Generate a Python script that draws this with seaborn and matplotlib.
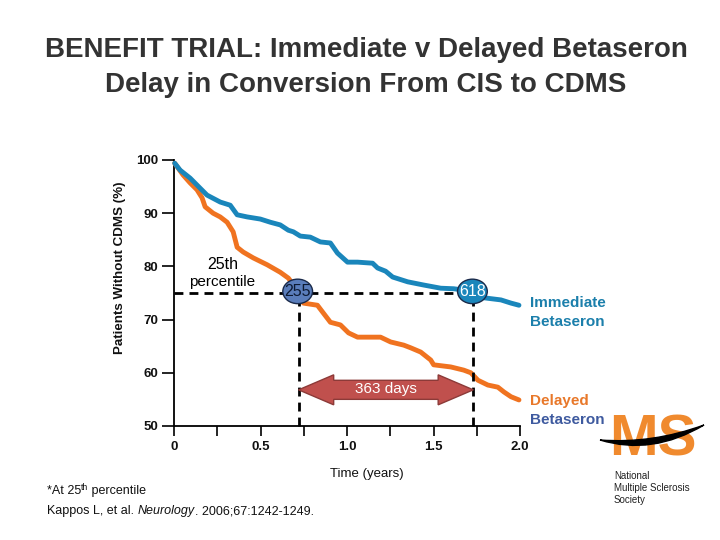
import matplotlib
matplotlib.use("Agg")
import matplotlib.pyplot as plt
import seaborn as sns
import pandas as pd
from matplotlib.patches import Ellipse, Polygon, PathPatch
from matplotlib.path import Path

# ---------------- data ----------------
imm_t = [0.004, 0.035, 0.093, 0.151, 0.191, 0.267, 0.325, 0.365, 0.423, 0.499,
         0.557, 0.614, 0.661, 0.690, 0.730, 0.788, 0.846, 0.904, 0.945, 1.003,
         1.061, 1.148, 1.177, 1.223, 1.264, 1.351, 1.443, 1.542, 1.617, 1.710,
         1.791, 1.890, 1.948, 1.994]
imm_s = [99.4, 98.1, 96.6, 94.7, 93.4, 92.1, 91.5, 89.7, 89.3, 88.9,
         88.3, 87.8, 86.8, 86.5, 85.7, 85.5, 84.6, 84.4, 82.5, 80.8,
         80.8, 80.6, 79.7, 79.1, 78.0, 77.1, 76.5, 75.9, 75.8, 75.4,
         74.1, 73.7, 73.1, 72.7]
del_t = [0.004, 0.052, 0.093, 0.133, 0.162, 0.180, 0.226, 0.267, 0.307, 0.342,
         0.365, 0.400, 0.458, 0.539, 0.614, 0.661, 0.713, 0.748, 0.829, 0.864,
         0.904, 0.962, 1.009, 1.061, 1.194, 1.252, 1.328, 1.368, 1.426, 1.484,
         1.501, 1.600, 1.675, 1.716, 1.757, 1.814, 1.872, 1.907, 1.948, 1.994]
del_s = [99.4, 97.2, 95.7, 94.4, 92.9, 91.2, 90.0, 89.3, 88.3, 86.5,
         83.6, 82.7, 81.6, 80.3, 78.9, 77.8, 75.6, 73.1, 72.7, 71.2,
         69.5, 69.0, 67.5, 66.7, 66.7, 65.8, 65.2, 64.7, 63.9, 62.4,
         61.5, 61.1, 60.5, 60.0, 58.6, 57.7, 57.3, 56.4, 55.5, 54.9]
groups = ["Delayed", "Immediate"]
pct_level = 75.0
pct_x = [0.72, 1.73]
pct_labels = ["255", "618"]
diff_label = "363 days"
x_ticks = [0.0, 0.5, 1.0, 1.5, 2.0]
x_ticklabels = ["0", "0.5", "1.0", "1.5", "2.0"]
x_minor = [0.25, 0.75, 1.25, 1.75]
y_ticks = [50, 60, 70, 80, 90, 100]

df = pd.concat([
    pd.DataFrame({"t": del_t, "s": del_s, "g": "Delayed"}),
    pd.DataFrame({"t": imm_t, "s": imm_s, "g": "Immediate"}),
])

# ---------------- style ----------------
sns.set_theme(style="white")
plt.rcParams["font.family"] = ["Liberation Sans", "DejaVu Sans"]

BLUE = "#1a86bb"
ORANGE = "#f07320"
TEAL_TXT = "#1b7fab"
NAVY_TXT = "#3e5a9f"

fig = plt.figure(figsize=(7.2, 5.4), dpi=100)
W, H = 720, 540
ax = fig.add_axes([174 / W, 1 - 426 / H, (520 - 174) / W, (426 - 160) / H])

sns.lineplot(data=df, x="t", y="s", hue="g", hue_order=groups,
             palette={"Delayed": ORANGE, "Immediate": BLUE},
             linewidth=3.5, sort=False, legend=False, ax=ax, zorder=3)
for ln in ax.lines:
    ln.set_clip_on(False)

ax.set_xlim(0, 2.0)
ax.set_ylim(50, 100)
ax.set_xticks(x_ticks)
ax.set_xticklabels(x_ticklabels)
ax.set_xticks(x_minor, minor=True)
ax.set_yticks(y_ticks)
ax.set_xlabel("")
ax.set_ylabel("")
for sp in ["top", "right"]:
    ax.spines[sp].set_visible(False)
for sp in ["left", "bottom"]:
    ax.spines[sp].set_color("black")
    ax.spines[sp].set_linewidth(1.3)
ax.tick_params(axis="x", which="both", direction="out", length=7, width=1.2,
               color="black", bottom=True, pad=4, labelsize=9.5)
ax.tick_params(axis="y", which="both", direction="out", length=9, width=1.2,
               color="black", left=True, pad=2, labelsize=9.5)
for lab in ax.get_xticklabels() + ax.get_yticklabels():
    lab.set_fontweight("bold")
    lab.set_color("#111111")

# dashed percentile lines
ax.plot([0, pct_x[1]], [pct_level, pct_level], ls=(0, (3.2, 2.2)), color="black",
        lw=2.0, zorder=4, clip_on=False)
for xv in pct_x:
    ax.plot([xv, xv], [50, pct_level], ls=(0, (3.2, 2.2)), color="black",
            lw=2.0, zorder=4, clip_on=False)

# ellipses with days
ell_fc = ["#5a7dbb", "#1a86bb"]
ell_tc = ["#0d1a33", "white"]
for xv, lab, fc, tc in zip(pct_x, pct_labels, ell_fc, ell_tc):
    ax.add_patch(Ellipse((xv - 0.005, pct_level + 0.3), 0.172, 4.6, facecolor=fc,
                         edgecolor="#1a2a4a", lw=1.0, zorder=6, clip_on=False))
    ax.text(xv - 0.005, pct_level + 0.3, lab, ha="center", va="center",
            fontsize=11.5, color=tc, zorder=7)

# double arrow
x0, x1 = pct_x
ya = 56.8
dx, bh, hh = 0.203, 1.79, 2.82
pts = [(x0, ya), (x0 + dx, ya + hh), (x0 + dx, ya + bh), (x1 - dx, ya + bh),
       (x1 - dx, ya + hh), (x1, ya), (x1 - dx, ya - hh), (x1 - dx, ya - bh),
       (x0 + dx, ya - bh), (x0 + dx, ya - hh)]
ax.add_patch(Polygon(pts, closed=True, facecolor="#c0504d", edgecolor="#8c3a38",
                     lw=1.0, zorder=5))
ax.text((x0 + x1) / 2, ya + 0.2, diff_label, ha="center", va="center",
        color="white", fontsize=11, zorder=6)

# 25th percentile annotation
ax.text(0.28, 80.4, "25th", ha="center", va="center", fontsize=11.5, color="black")
ax.text(0.28, 77.1, "percentile", ha="center", va="center", fontsize=11, color="black")

# group labels
for txt, yp, col in [("Immediate", 303, TEAL_TXT), ("Betaseron", 322, TEAL_TXT),
                     ("Delayed", 401, "#e8782a"), ("Betaseron", 420, NAVY_TXT)]:
    fig.text(530 / W, 1 - yp / H, txt, color=col, fontsize=11,
             fontweight="bold", va="center", ha="left")

# title
fig.text(366 / W, 1 - 50 / H, "BENEFIT TRIAL: Immediate v Delayed Betaseron",
         ha="center", va="center", fontsize=20, fontweight="bold", color="#333333")
fig.text(366 / W, 1 - 85 / H, "Delay in Conversion From CIS to CDMS",
         ha="center", va="center", fontsize=20, fontweight="bold", color="#333333")

# axis labels
fig.text(120 / W, 1 - 268 / H, "Patients Without CDMS (%)", rotation=90,
         ha="center", va="center", fontsize=9.6, fontweight="bold", color="#111111")
fig.text(367 / W, 1 - 474 / H, "Time (years)", ha="center", va="center",
         fontsize=9.5, color="#111111")

# footnotes (sequential pieces)
renderer = fig.canvas.get_renderer()

def seq_text(x_px, y_px, pieces):
    x = x_px
    for txt, kw, dy in pieces:
        t = fig.text(x / W, 1 - (y_px - dy) / H, txt, ha="left", va="center",
                     color="#111111", **kw)
        bb = t.get_window_extent(renderer=renderer)
        x += bb.width

seq_text(47, 491, [("*At 25", dict(fontsize=9), 0),
                   ("th", dict(fontsize=6.3), 3),
                   (" percentile", dict(fontsize=9), 0)])
seq_text(47, 511, [("Kappos L, et al. ", dict(fontsize=9), 0),
                   ("Neurology", dict(fontsize=9, style="italic"), 0),
                   (". 2006;67:1242-1249.", dict(fontsize=9), 0)])

# NMSS logo (decoration)
fig.text(653 / W, 1 - 441 / H, "MS", ha="center", va="center", fontsize=42,
         fontweight="bold", color="#f08a2e", family=["Liberation Sans Narrow", "Liberation Sans"],
         zorder=3)
verts = [(600, 440), (652, 444), (704, 425),
         (652, 456), (600, 440), (600, 440)]
codes = [Path.MOVETO, Path.CURVE3, Path.CURVE3,
         Path.CURVE3, Path.CURVE3, Path.CLOSEPOLY]
vf = [(vx / W, 1 - vy / H) for vx, vy in verts]
swoosh = PathPatch(Path(vf, codes), transform=fig.transFigure,
                   facecolor="black", edgecolor="black", lw=1.0, zorder=10)
fig.add_artist(swoosh)
for i, s in enumerate(["National", "Multiple Sclerosis", "Society"]):
    fig.text(614 / W, 1 - (476 + 12 * i) / H, s, ha="left", va="center",
             fontsize=7, color="#222222")

fig.savefig("out.png", dpi=100)
